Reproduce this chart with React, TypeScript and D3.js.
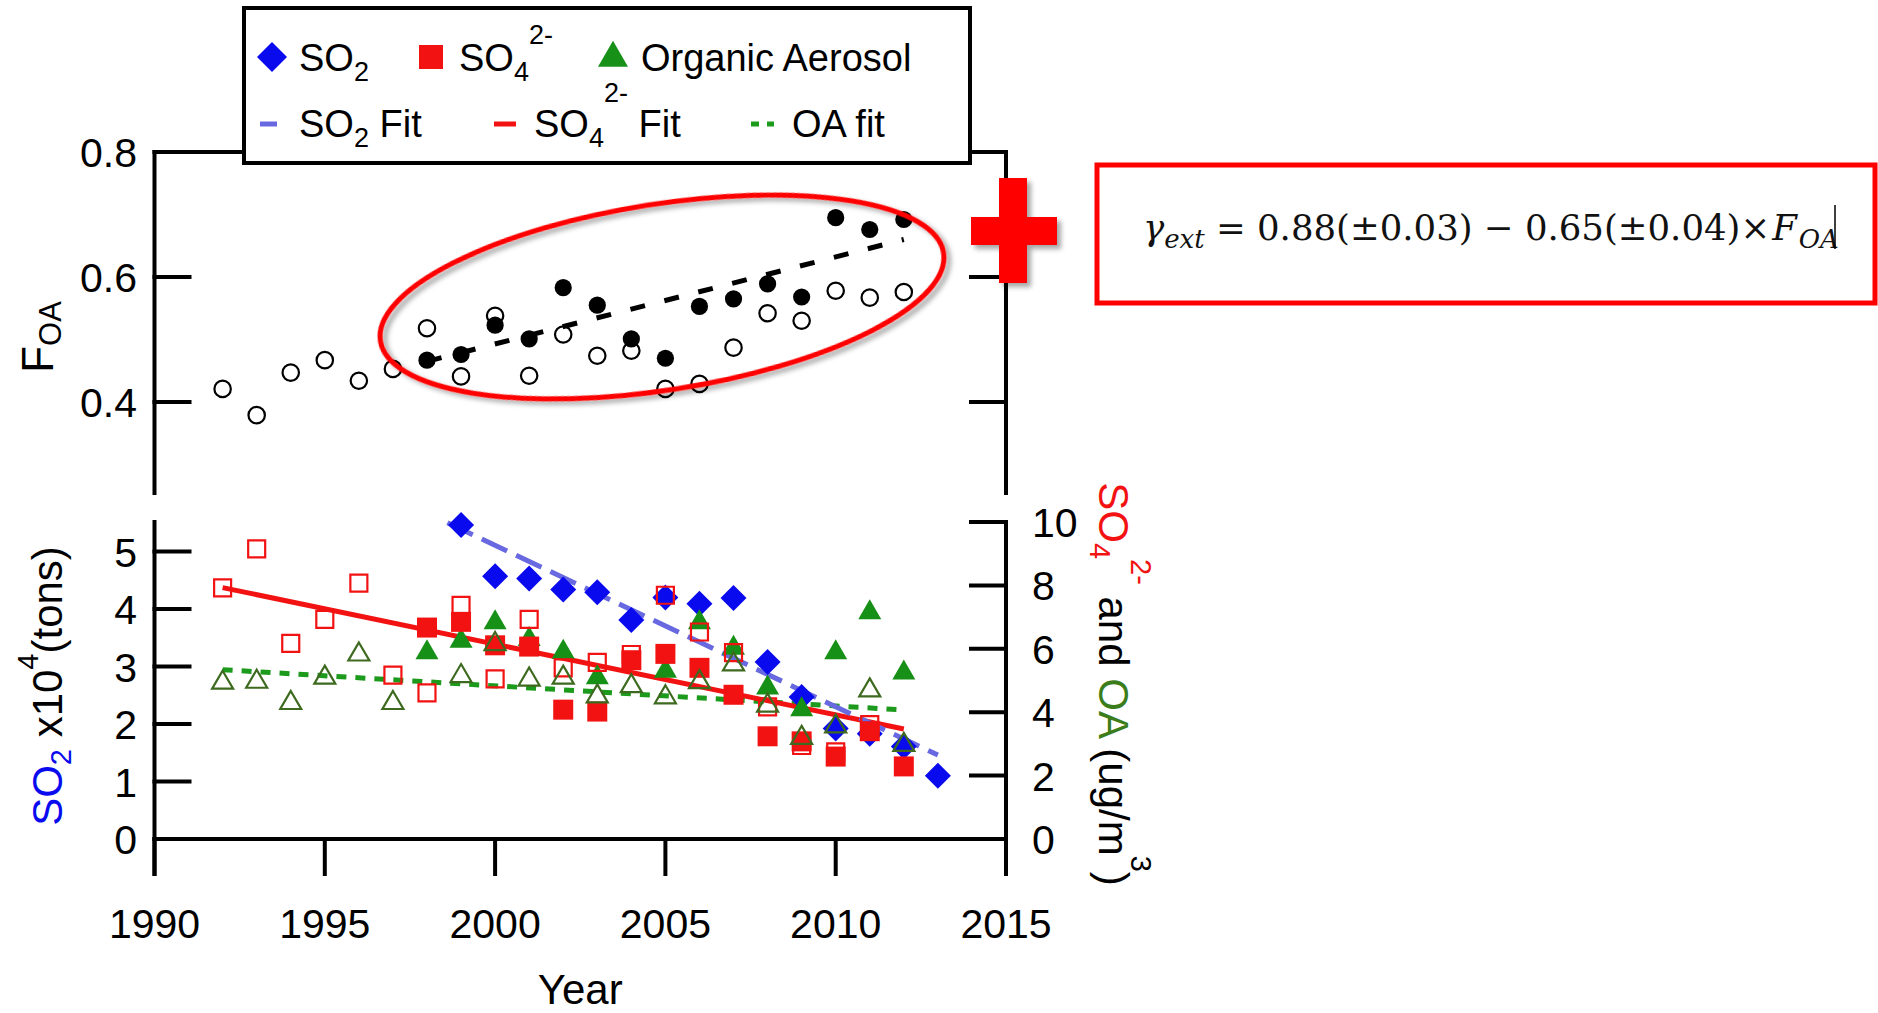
import React from "react";
import * as d3 from "d3";

// ---- axis ticks ----
const yearTicks = [1990, 1995, 2000, 2005, 2010, 2015];
const foaTicks = [0.4, 0.6];
const so2Ticks = [0, 1, 2, 3, 4, 5];
const massTicks = [0, 2, 4, 6, 8, 10];

// ---- top panel: fraction of organic aerosol ----
const foaAllYears = [1992, 1993, 1994, 1995, 1996, 1997, 1998, 1999, 2000, 2001, 2002, 2003, 2004, 2005, 2006, 2007, 2008, 2009, 2010, 2011, 2012];
const foaAll = [0.421, 0.379, 0.447, 0.467, 0.434, 0.453, 0.518, 0.441, 0.538, 0.442, 0.508, 0.474, 0.482, 0.421, 0.429, 0.487, 0.542, 0.530, 0.578, 0.567, 0.576];
const foaSubYears = [1998, 1999, 2000, 2001, 2002, 2003, 2004, 2005, 2006, 2007, 2008, 2009, 2010, 2011, 2012];
const foaSub = [0.467, 0.476, 0.523, 0.501, 0.583, 0.555, 0.501, 0.470, 0.553, 0.565, 0.589, 0.568, 0.695, 0.676, 0.692];
const foaFitYears = [1998, 2012];
const foaFitValues = [0.465, 0.66];

// ---- bottom panel ----
const so2Years = [1999, 2000, 2001, 2002, 2003, 2004, 2005, 2006, 2007, 2008, 2009, 2010, 2011, 2012, 2013];
const so2Values = [5.46, 4.57, 4.53, 4.34, 4.29, 3.81, 4.2, 4.09, 4.19, 3.08, 2.47, 1.92, 1.83, 1.61, 1.1];
const so2FitYears = [1998.6, 2013.0];
const so2FitValues = [5.5, 1.46];

const so4Years = [1998, 1999, 2000, 2001, 2002, 2003, 2004, 2005, 2006, 2007, 2008, 2009, 2010, 2011, 2012];
const so4Values = [6.67, 6.85, 6.11, 6.07, 4.08, 4.02, 5.64, 5.84, 5.4, 4.55, 3.24, 3.08, 2.6, 3.4, 2.29];
const so4AllYears = [1992, 1993, 1994, 1995, 1996, 1997, 1998, 1999, 2000, 2001, 2002, 2003, 2004, 2005, 2006, 2007, 2008, 2009, 2010, 2011];
const so4AllValues = [7.92, 9.15, 6.17, 6.93, 8.07, 5.17, 4.61, 7.37, 5.05, 6.93, 5.4, 5.57, 5.82, 7.69, 6.53, 5.88, 4.17, 2.95, 2.75, 3.61];
const so4FitYears = [1992, 2012];
const so4FitValues = [7.93, 3.47];

const oaYears = [1998, 1999, 2000, 2001, 2002, 2003, 2005, 2006, 2007, 2008, 2009, 2010, 2011, 2012];
const oaValues = [5.88, 6.24, 6.83, 6.3, 5.9, 5.09, 5.3, 6.83, 6.02, 4.77, 4.08, 5.88, 7.14, 5.24];
const oaAllYears = [1992, 1993, 1994, 1995, 1996, 1997, 1999, 2000, 2001, 2002, 2003, 2004, 2005, 2006, 2007, 2008, 2009, 2010, 2011, 2012];
const oaAllValues = [4.93, 4.96, 4.29, 5.09, 5.82, 4.29, 5.14, 6.15, 5.03, 5.09, 4.5, 4.82, 4.47, 4.95, 5.51, 4.21, 3.19, 3.55, 4.69, 2.97];
const oaFitYears = [1992, 2012];
const oaFitValues = [5.34, 4.07];

// ---- colours ----
const BLUE = "#0a0aef";
const BLUE_FIT = "#6868e0";
const RED = "#f21212";
const GREEN = "#179017";
const OLIVE = "#3d6a1f";
const GREEN_FIT = "#1c9a1c";
const OA_TITLE = "#3a7d1a";

const SANS = "'Liberation Sans', Arial, Helvetica, sans-serif";
const SERIF = "'DejaVu Serif', 'Liberation Serif', serif";

// ---- scales ----
const x = d3.scaleLinear().domain([1990, 2015]).range([154.5, 1006]);
const yTop = d3.scaleLinear().domain([0.4, 0.8]).range([402, 152]);
const yLeft = d3.scaleLinear().domain([0, 5]).range([839, 551.5]);
const yRight = d3.scaleLinear().domain([0, 10]).range([839, 522]);

const AX = 4; // axis stroke width
const TICK = 35;

const diamond = (r: number) => `M0,${-r}L${r},0L0,${r}L${-r},0Z`;
const square = (s: number) => `M${-s / 2},${-s / 2}h${s}v${s}h${-s}Z`;
const triangle = (w: number, h: number) => `M0,${(-2 * h) / 3}L${w / 2},${h / 3}L${-w / 2},${h / 3}Z`;

function fitLine(xs: number[], ys: number[], ys2: (v: number) => number) {
  return d3
    .line<number>()
    .x((_, i) => x(xs[i]))
    .y((v) => ys2(v))(ys) as string;
}

function Markers({ xs, ys, scale, d, fill, stroke, sw }: any) {
  return (
    <g>
      {xs.map((yr: number, i: number) => (
        <path
          key={yr}
          d={d}
          transform={`translate(${x(yr)},${scale(ys[i])})`}
          fill={fill}
          stroke={stroke || "none"}
          strokeWidth={sw || 0}
        />
      ))}
    </g>
  );
}

export default function App() {
  const xMin = x(1990);
  const xMax = x(2015);
  const topPanelBottom = 493;
  const botTop = yRight(10);
  const xAxisY = yLeft(0);

  return (
    <svg
      width={1878}
      height={1013}
      viewBox="0 0 1878 1013"
      style={{ position: "absolute", left: 0, top: 0, display: "block", background: "#fff" }}
      fontFamily={SANS}
    >
      <defs>
        <filter id="shadow" x="-20%" y="-20%" width="140%" height="140%">
          <feDropShadow dx="4" dy="4" stdDeviation="2.5" floodColor="#000" floodOpacity="0.35" />
        </filter>
      </defs>
      <rect width={1878} height={1013} fill="#fff" />

      {/* ===== top panel frame ===== */}
      <g stroke="#000" strokeWidth={AX} strokeLinecap="square" fill="none">
        <line x1={xMin} y1={yTop(0.8)} x2={xMin} y2={topPanelBottom} />
        <line x1={xMax} y1={yTop(0.8)} x2={xMax} y2={topPanelBottom} />
        <line x1={xMin} y1={yTop(0.8)} x2={xMax} y2={yTop(0.8)} />
        {foaTicks.map((t) => (
          <g key={t}>
            <line x1={xMin} x2={xMin + TICK} y1={yTop(t)} y2={yTop(t)} />
            <line x1={xMax} x2={xMax - TICK} y1={yTop(t)} y2={yTop(t)} />
          </g>
        ))}
      </g>
      <g fontSize={41} textAnchor="end" fill="#000">
        {[0.4, 0.6, 0.8].map((t) => (
          <text key={t} x={137} y={yTop(t) + 15}>
            {t.toFixed(1)}
          </text>
        ))}
      </g>
      <text transform={`translate(53,${337}) rotate(-90)`} textAnchor="middle" fontSize={44}>
        F<tspan fontSize={31} dy={8}>OA</tspan>
      </text>

      {/* top panel data */}
      <Markers xs={foaAllYears} ys={foaAll} scale={yTop} d={d3.symbol(d3.symbolCircle, Math.PI * 8.2 * 8.2)()} fill="#fff" stroke="#000" sw={2.2} />
      <Markers xs={foaSubYears} ys={foaSub} scale={yTop} d={d3.symbol(d3.symbolCircle, Math.PI * 8.6 * 8.6)()} fill="#000" />
      <path d={fitLine(foaFitYears, foaFitValues, yTop)} stroke="#000" strokeWidth={5} strokeDasharray="15 20" fill="none" />

      {/* highlight ellipse */}
      <ellipse
        cx={0}
        cy={0}
        rx={285}
        ry={93}
        transform="translate(662,297) rotate(-8.9)"
        fill="none"
        stroke="#ff0000"
        strokeWidth={5}
        filter="url(#shadow)"
      />

      {/* ===== bottom panel frame ===== */}
      <g stroke="#000" strokeWidth={AX} strokeLinecap="square" fill="none">
        <line x1={xMin} y1={botTop} x2={xMin} y2={xAxisY + TICK} />
        <line x1={xMax} y1={botTop} x2={xMax} y2={xAxisY + TICK} />
        <line x1={xMin} y1={xAxisY} x2={xMax} y2={xAxisY} />
        {yearTicks.map((t) => (
          <line key={t} x1={x(t)} x2={x(t)} y1={xAxisY} y2={xAxisY + TICK} />
        ))}
        {so2Ticks.map((t) => (
          <line key={t} x1={xMin} x2={xMin + TICK} y1={yLeft(t)} y2={yLeft(t)} />
        ))}
        {massTicks.map((t) => (
          <line key={t} x1={xMax} x2={xMax - TICK} y1={yRight(t)} y2={yRight(t)} />
        ))}
      </g>
      <g fontSize={41} fill="#000">
        {so2Ticks.map((t) => (
          <text key={t} x={137} y={yLeft(t) + 15} textAnchor="end">
            {t}
          </text>
        ))}
        {massTicks.map((t) => (
          <text key={t} x={1032} y={yRight(t) + 15} textAnchor="start">
            {t}
          </text>
        ))}
        {yearTicks.map((t) => (
          <text key={t} x={x(t)} y={938} textAnchor="middle">
            {t}
          </text>
        ))}
      </g>
      <text x={(xMin + xMax) / 2} y={1004} textAnchor="middle" fontSize={42}>
        Year
      </text>

      {/* left axis title */}
      <text transform={`translate(62,686) rotate(-90)`} textAnchor="middle" fontSize={42}>
        <tspan fill={BLUE}>SO</tspan>
        <tspan fill={BLUE} fontSize={29} dy={9}>2</tspan>
        <tspan dy={-9}> x10</tspan>
        <tspan fontSize={29} dy={-24}>4</tspan>
        <tspan dy={24}>(tons)</tspan>
      </text>

      {/* right axis title */}
      <text transform={`translate(1099,684) rotate(90)`} textAnchor="middle" fontSize={42}>
        <tspan fill={RED}>SO</tspan>
        <tspan fill={RED} fontSize={29} dy={9}>4</tspan>
        <tspan fill={RED} fontSize={29} dy={-41}>2-</tspan>
        <tspan dy={32}> and </tspan>
        <tspan fill={OA_TITLE}>OA</tspan>
        <tspan> (ug/m</tspan>
        <tspan fontSize={29} dy={-32}>3</tspan>
        <tspan dy={32}>)</tspan>
      </text>

      {/* bottom panel fits */}
      <path d={fitLine(oaFitYears, oaFitValues, yRight)} stroke={GREEN_FIT} strokeWidth={5} strokeDasharray="10 9" fill="none" />
      <path d={fitLine(so4FitYears, so4FitValues, yRight)} stroke={RED} strokeWidth={5} fill="none" />
      <path d={fitLine(so2FitYears, so2FitValues, yLeft)} stroke={BLUE_FIT} strokeWidth={5} strokeDasharray="28 10" fill="none" />

      {/* bottom panel points */}
      <Markers xs={so2Years} ys={so2Values} scale={yLeft} d={diamond(13)} fill={BLUE} />
      <Markers xs={oaYears} ys={oaValues} scale={yRight} d={triangle(23, 20)} fill={GREEN} />
      <Markers xs={so4Years} ys={so4Values} scale={yRight} d={square(20)} fill={RED} />
      <Markers xs={so4AllYears} ys={so4AllValues} scale={yRight} d={square(17)} fill="none" stroke={RED} sw={2.2} />
      <Markers xs={oaAllYears} ys={oaAllValues} scale={yRight} d={triangle(21, 18)} fill="none" stroke={OLIVE} sw={2.2} />

      {/* ===== legend ===== */}
      <rect x={244} y={8} width={726} height={155} fill="#fff" stroke="#000" strokeWidth={4} />
      <g fontSize={38} fill="#000">
        <path d={diamond(15)} transform="translate(272,57)" fill={BLUE} />
        <text x={299} y={71}>
          SO<tspan fontSize={27} dy={10}>2</tspan>
        </text>
        <path d={square(24)} transform="translate(431,57)" fill={RED} />
        <text x={459} y={71}>
          SO<tspan fontSize={27} dy={10}>4</tspan>
          <tspan fontSize={27} dy={-37}>2-</tspan>
        </text>
        <path d={triangle(30, 26)} transform="translate(613,58)" fill={GREEN} />
        <text x={641} y={71}>Organic Aerosol</text>

        <line x1={260} x2={277} y1={124} y2={124} stroke={BLUE_FIT} strokeWidth={5} />
        <text x={299} y={137}>
          SO<tspan fontSize={27} dy={10}>2</tspan>
          <tspan dy={-10}> Fit</tspan>
        </text>
        <line x1={494} x2={516} y1={124} y2={124} stroke={RED} strokeWidth={5} />
        <text x={534} y={137}>
          SO<tspan fontSize={27} dy={10}>4</tspan>
          <tspan fontSize={27} dy={-45}>2-</tspan>
          <tspan dy={35}> Fit</tspan>
        </text>
        <line x1={751} x2={774} y1={124} y2={124} stroke={GREEN_FIT} strokeWidth={5} strokeDasharray="8 8" />
        <text x={792} y={137}>OA fit</text>
      </g>

      {/* ===== plus sign ===== */}
      <g fill="#ff0000" filter="url(#shadow)">
        <path d="M999,178h28v39h30v28h-30v38h-28v-38h-28v-28h28Z" />
      </g>

      {/* ===== regression formula ===== */}
      <rect x={1097} y={165} width={778} height={138} fill="none" stroke="#ff0000" strokeWidth={5} />
      <text x={1143} y={240} fontFamily={SERIF} fontSize={35.5} fill="#111">
        <tspan fontStyle="italic">γ</tspan>
        <tspan fontStyle="italic" fontSize={26} dy={8}>ext</tspan>
        <tspan dy={-8}> = 0.88(±0.03) − 0.65(±0.04)×</tspan>
        <tspan fontStyle="italic" dx={2}>F</tspan>
        <tspan fontStyle="italic" fontSize={26} dy={8} dx={2}>OA</tspan>
      </text>
      <line x1={1835} x2={1835} y1={205} y2={249} stroke="#000" strokeWidth={1.5} />
    </svg>
  );
}
